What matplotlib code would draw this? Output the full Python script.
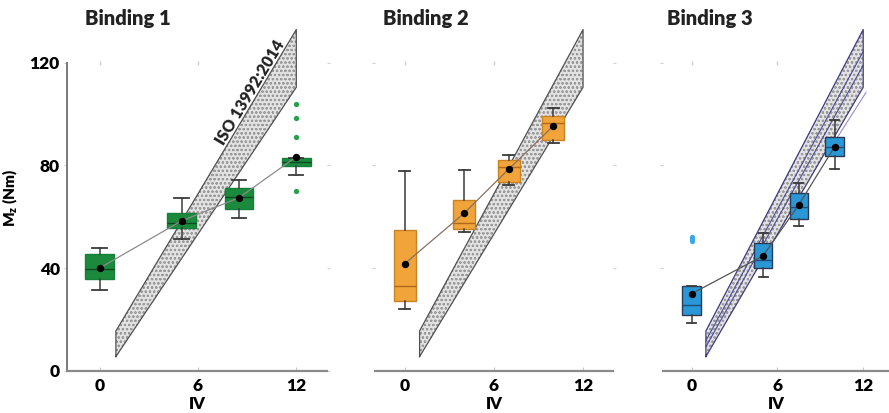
import matplotlib
matplotlib.use("Agg")
import matplotlib.pyplot as plt
import numpy as np

plt.rcParams['font.family'] = ['Lato', 'DejaVu Sans']
plt.rcParams['font.weight'] = 'heavy'
plt.rcParams['mathtext.fontset'] = 'custom'
plt.rcParams['mathtext.bf'] = 'Lato:heavy'
plt.rcParams['mathtext.rm'] = 'Lato:heavy'
plt.rcParams['hatch.linewidth'] = 0.5

# ---------------- data ----------------
titles = ["Binding 1", "Binding 2", "Binding 3"]
xticks = [0, 6, 12]
yticks = [0, 40, 80, 120]

# ISO 13992:2014 band (IV vs Mz)
band_x = [1, 12]
band_lo = [5.5, 110.5]
band_hi = [15.5, 133.0]

# Binding 1
b1_pos = [0, 5, 8.5, 12]
b1_whislo = [31.5, 51.4, 59.6, 76.3]
b1_q1 = [35.8, 55.7, 63.1, 79.9]
b1_med = [39.7, 57.5, 67.8, 81.5]
b1_q3 = [45.6, 61.6, 71.3, 83.0]
b1_whishi = [47.9, 67.4, 74.4, 83.0]
b1_mean = [40.0, 58.4, 67.4, 83.4]
b1_fliers = [[], [], [], [104.0, 98.5, 91.0, 70.0]]

# Binding 2
b2_pos = [0, 4, 7, 10]
b2_whislo = [24.1, 53.9, 72.3, 88.9]
b2_q1 = [27.3, 55.2, 73.6, 90.0]
b2_med = [33.1, 57.4, 79.5, 96.5]
b2_q3 = [55.0, 66.6, 82.0, 99.3]
b2_whishi = [78.0, 78.3, 84.1, 102.4]
b2_mean = [41.7, 61.4, 78.6, 95.4]
b2_fliers = [[], [], [], []]

# Binding 3
b3_pos = [0, 5, 7.5, 10]
b3_whislo = [18.7, 36.6, 56.5, 78.7]
b3_q1 = [21.8, 40.1, 59.2, 83.8]
b3_med = [25.7, 43.2, 63.9, 87.3]
b3_q3 = [33.1, 49.9, 69.3, 91.2]
b3_whishi = [33.1, 53.8, 73.2, 97.8]
b3_mean = [30.0, 44.8, 64.7, 87.3]
b3_fliers = [[50.5, 51.5, 52.0], [], [], []]

# extra (navy) lines drawn over the band in Binding 3, as fractions of band height
b3_inner_frac = [0.38, 0.62]
b3_offset_x = [9.8, 12.2]
b3_offset_lo = [-2.0, -2.0]

# ---------------- layout ----------------
W, H = 889, 413
fig = plt.figure(figsize=(W / 100, H / 100), dpi=100)
bottom = (H - 370.7) / H
height = (370.7 - 24.4) / H
axes_specs = [
    (66.7 / W, (-2, 13.9), 15.9 * 16.4 / W),
    (375.0 / W, (-2, 14.0), 16.0 * 14.86 / W),
    (663.0 / W, (-2, 13.8), 15.8 * 14.3 / W),
]
title_x = [85, 383, 667]

colors = [
    dict(face="#1b8a3c", edge="#15803a", med="#0d4a20", flier="#22a04a", line="#8c8c8c", width=1.75),
    dict(face="#f0a43a", edge="#c98224", med="#b0681a", flier="#f0a43a", line="#8a7060", width=1.5),
    dict(face="#2a98d6", edge="#2a3a55", med="#1d4f7a", flier="#3aa8e6", line="#555555", width=1.28),
]

data = [
    (b1_pos, b1_whislo, b1_q1, b1_med, b1_q3, b1_whishi, b1_mean, b1_fliers),
    (b2_pos, b2_whislo, b2_q1, b2_med, b2_q3, b2_whishi, b2_mean, b2_fliers),
    (b3_pos, b3_whislo, b3_q1, b3_med, b3_q3, b3_whishi, b3_mean, b3_fliers),
]

for i, ((left, xl, w), d, c) in enumerate(zip(axes_specs, data, colors)):
    ax = fig.add_axes([left, bottom, w, height])
    ax.set_xlim(*xl)
    ax.set_ylim(0, 135)
    pos, wlo, q1, med, q3, whi, mean, fl = d

    # band
    bx = np.array(band_x, dtype=float)
    blo = np.array(band_lo)
    bhi = np.array(band_hi)
    ax.fill_between(bx, blo, bhi, facecolor="#e2e2e2", edgecolor="#9a9a9a",
                    hatch="oooo", linewidth=0, zorder=1)
    outline_col = "#3b3b80" if i == 2 else "#505050"
    ax.plot(np.r_[bx, bx[::-1], bx[0]], np.r_[blo, bhi[::-1], blo[0]],
            color=outline_col, lw=0.9, zorder=2)
    if i == 2:
        for f in b3_inner_frac:
            ax.plot(bx, bhi - f * (bhi - blo), color="#4a4a9a", lw=0.8, zorder=2)
        ox = np.array(b3_offset_x)
        oy = np.interp(ox, bx, blo) + np.array(b3_offset_lo)
        ax.plot(ox, oy, color="#9a8ad0", lw=0.8, zorder=2)

    stats = []
    for k in range(len(pos)):
        stats.append(dict(whislo=wlo[k], q1=q1[k], med=med[k], q3=q3[k],
                          whishi=whi[k], fliers=fl[k]))
    ax.bxp(stats, positions=pos, widths=c["width"], patch_artist=True,
           manage_ticks=False, showfliers=True,
           boxprops=dict(facecolor=c["face"], edgecolor=c["edge"], linewidth=1.0),
           medianprops=dict(color=c["med"], linewidth=1.0),
           whiskerprops=dict(color="#3a3a3a", linewidth=1.1),
           capprops=dict(color="#3a3a3a", linewidth=1.3),
           capwidths=c["width"] * 0.5,
           flierprops=dict(marker="o", markersize=3.8, markerfacecolor=c["flier"],
                           markeredgecolor="none"),
           zorder=3)
    ax.plot(pos, mean, color=c["line"], lw=0.9, zorder=4)
    ax.plot(pos, mean, "o", color="black", markersize=4.3, zorder=5)

    # axes styling
    for s in ["top", "right"]:
        ax.spines[s].set_visible(False)
    ax.spines["bottom"].set_color("#8a8a8a")
    ax.spines["bottom"].set_linewidth(1.6)
    if i == 0:
        ax.spines["left"].set_color("#7a7a7a")
        ax.spines["left"].set_linewidth(1.4)
        ax.spines["left"].set_bounds(0, 120)
        ax.set_yticks(yticks)
        ax.set_yticklabels([str(v) for v in yticks], fontsize=12.5, fontweight="heavy")
        ax.tick_params(axis="y", length=2, color="#d0d0d0", pad=3)
        ax.set_ylabel(r"$\mathbf{M_z}$ (Nm)", fontsize=11, fontweight="heavy", labelpad=7)
    else:
        ax.spines["left"].set_visible(False)
        ax.set_yticks(yticks[1:])
        ax.set_yticklabels([])
        ax.tick_params(axis="y", length=2, color="#d0d0d0")
    ax.tick_params(axis="y", right=True, which="both")
    ax.set_xticks(xticks)
    ax.set_xticklabels([str(v) for v in xticks], fontsize=12.5, fontweight="heavy")
    ax.tick_params(axis="x", length=3, direction="in", color="#c8c8c8", pad=5)
    ax.set_xlabel("IV", fontsize=12, fontweight="heavy", labelpad=2)
    # faint marks at the top level
    ax.plot(xticks[:2], [yticks[-1]] * 2, "|", color="#cfcfcf", markersize=3)

    if i == 0:
        ax.text(9.19, 108.3, "ISO 13992:2014", rotation=59, rotation_mode="anchor",
                ha="center", va="center", fontsize=11.5, fontweight="heavy", color="#222222")

    fig.text(title_x[i] / W, 1 - 18 / H, titles[i], fontsize=14.5, fontweight="heavy",
             ha="left", va="center", color="#222222")

fig.savefig("out.png", dpi=100)
